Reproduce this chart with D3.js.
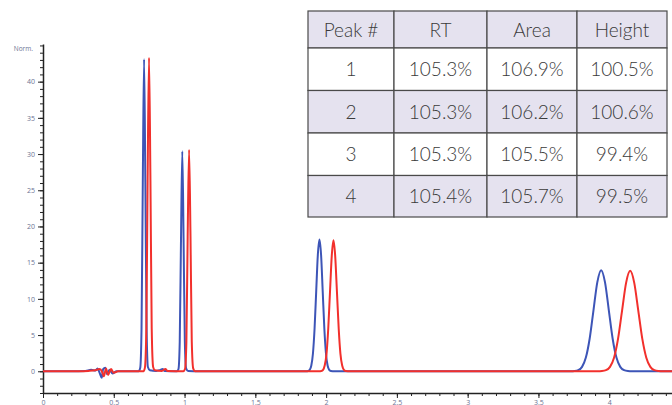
<!DOCTYPE html>
<html>
<head>
<meta charset="utf-8">
<script src="https://cdn.jsdelivr.net/npm/d3@7"></script>
<style>
  html, body { margin: 0; padding: 0; background: #fff; }
  svg { display: block; }
</style>
</head>
<body>
<div id="chart"></div>
<script>
// Chromatogram traces, [time (min), signal (Norm.)]
const blueTrace = [
  [0, 0], [0.2, 0], [0.3, 0.05], [0.34, 0.2], [0.37, 0.1], [0.385, 0.4], [0.4, -0.2],
  [0.415, -0.9], [0.425, 0.3], [0.44, 0.5], [0.452, -0.4], [0.47, 0.2], [0.49, -0.3],
  [0.52, 0], [0.6, 0], [0.675, 0],
  [0.687, 0.5], [0.696, 5.8], [0.705, 26.1], [0.714, 43.1], [0.723, 26.1], [0.732, 5.8],
  [0.741, 0.6], [0.755, 0.15], [0.8, 0.05], [0.83, 0.2], [0.845, 0.3], [0.86, 0.05],
  [0.945, 0], [0.957, 0.3], [0.966, 4.1], [0.975, 18.4], [0.984, 30.4], [0.993, 18.4],
  [1.002, 4.1], [1.011, 0.4], [1.025, 0.05], [1.1, 0], [1.5, 0], [1.86, 0],
  [1.8725, 0.04], [1.884, 0.2], [1.8955, 0.8], [1.907, 2.46], [1.9185, 5.91], [1.93, 11.04],
  [1.9415, 16.06], [1.953, 18.2], [1.9645, 16.06], [1.976, 11.04], [1.9875, 5.91],
  [1.999, 2.46], [2.0105, 0.8], [2.022, 0.2], [2.0335, 0.04], [2.06, 0], [3, 0], [3.73, 0],
  [3.754, 0.03], [3.781, 0.155], [3.808, 0.61], [3.835, 1.89], [3.862, 4.53], [3.889, 8.46],
  [3.916, 12.31], [3.943, 13.95], [3.97, 12.31], [3.997, 8.46], [4.024, 4.53], [4.051, 1.89],
  [4.078, 0.61], [4.105, 0.155], [4.132, 0.03], [4.16, 0], [4.5, 0]
];

const redTrace = [
  [0, 0], [0.25, 0], [0.32, 0.05], [0.37, 0.15], [0.4, 0.3], [0.418, -0.1], [0.43, -0.7],
  [0.445, 0.4], [0.46, -0.5], [0.48, 0.3], [0.5, -0.2], [0.53, 0], [0.6, 0], [0.71, 0],
  [0.72, 0.5], [0.73, 5.9], [0.739, 26.3], [0.749, 43.3], [0.759, 26.3], [0.768, 5.9],
  [0.778, 0.6], [0.79, 0.15], [0.84, 0.05], [0.865, 0.3], [0.88, 0.05], [0.99, 0],
  [1.003, 0.3], [1.013, 4.1], [1.022, 18.6], [1.032, 30.6], [1.042, 18.6], [1.051, 4.1],
  [1.061, 0.4], [1.075, 0], [1.5, 0], [1.95, 0],
  [1.966, 0.04], [1.9785, 0.2], [1.99, 0.79], [2.003, 2.45], [2.015, 5.88], [2.0275, 10.98],
  [2.04, 15.97], [2.052, 18.1], [2.064, 15.97], [2.0765, 10.98], [2.089, 5.88], [2.101, 2.45],
  [2.1135, 0.79], [2.1255, 0.2], [2.138, 0.04], [2.17, 0], [3, 0], [3.92, 0],
  [3.9485, 0.03], [3.977, 0.15], [4.0055, 0.61], [4.034, 1.88], [4.0625, 4.51], [4.091, 8.42],
  [4.1195, 12.25], [4.148, 13.88], [4.1765, 12.25], [4.205, 8.42], [4.2335, 4.51],
  [4.262, 1.88], [4.2905, 0.61], [4.319, 0.15], [4.3475, 0.03], [4.38, 0], [4.5, 0]
];

const xMajorTicks = [0, 0.5, 1, 1.5, 2, 2.5, 3, 3.5, 4, 4.5];
const yMajorTicks = [0, 5, 10, 15, 20, 25, 30, 35, 40];

const tableHeader = ["Peak #", "RT", "Area", "Height"];
const tableRows = [
  ["1", "105.3%", "106.9%", "100.5%"],
  ["2", "105.3%", "106.2%", "100.6%"],
  ["3", "105.3%", "105.5%", "99.4%"],
  ["4", "105.4%", "105.7%", "99.5%"]
];

const width = 672;
const height = 405;

const svg = d3.select("#chart")
  .append("svg")
  .attr("width", width)
  .attr("height", height);

// Scales
const x = d3.scaleLinear().domain([0, 4.5]).range([43, 680]);
const y = d3.scaleLinear().domain([-3, 45.2]).range([393, 44]);

const tickColor = "#6d7494";

// Minor ticks
svg.append("g")
  .attr("transform", "translate(0,393)")
  .call(d3.axisBottom(x).tickValues(d3.range(0, 45).map(d => d / 10)).tickSize(3).tickFormat(""))
  .call(g => g.select(".domain").remove())
  .selectAll("line").attr("stroke", "#222");

svg.append("g")
  .attr("transform", "translate(43,0)")
  .call(d3.axisLeft(y).tickValues(d3.range(-3, 46)).tickSize(3).tickFormat(""))
  .call(g => g.select(".domain").remove())
  .selectAll("line").attr("stroke", "#222");

// Major ticks + labels (the x labels sit at the bottom edge, cut off as in the source image)
const xAxis = svg.append("g")
  .attr("transform", "translate(0,393)")
  .call(d3.axisBottom(x).tickValues(xMajorTicks).tickSize(5).tickSizeOuter(0).tickPadding(2).tickFormat(d3.format("")));

const yAxis = svg.append("g")
  .attr("transform", "translate(43,0)")
  .call(d3.axisLeft(y).tickValues(yMajorTicks).tickSize(5).tickSizeOuter(0).tickPadding(3));

[xAxis, yAxis].forEach(g => {
  g.select(".domain").attr("stroke", "#222").attr("stroke-width", 1.5);
  g.selectAll("line").attr("stroke", "#222");
  g.selectAll("text")
    .attr("fill", tickColor)
    .style("font-family", "'Open Sans', sans-serif")
    .style("font-size", "7px");
});

svg.append("text")
  .attr("x", 33)
  .attr("y", 51)
  .attr("text-anchor", "end")
  .attr("fill", tickColor)
  .style("font-family", "'Open Sans', sans-serif")
  .style("font-size", "6.5px")
  .text("Norm.");

// Traces
const line = d3.line()
  .x(d => x(d[0]))
  .y(d => y(d[1]))
  .curve(d3.curveMonotoneX);

svg.append("path")
  .datum(blueTrace)
  .attr("fill", "none")
  .attr("stroke", "#3d55b7")
  .attr("stroke-width", 2)
  .attr("stroke-linejoin", "round")
  .attr("d", line);

svg.append("path")
  .datum(redTrace)
  .attr("fill", "none")
  .attr("stroke", "#f2302c")
  .attr("stroke-width", 2)
  .attr("stroke-linejoin", "round")
  .attr("d", line);

// Table
const colWidths = [86, 93, 90, 90];
const colX = [308];
colWidths.forEach((w, i) => colX.push(colX[i] + w));
const rowY = [11, 48, 90.5, 133, 175.5, 217];

const allRows = [tableHeader, ...tableRows];
const table = svg.append("g");

allRows.forEach((row, r) => {
  row.forEach((cell, c) => {
    table.append("rect")
      .attr("x", colX[c])
      .attr("y", rowY[r])
      .attr("width", colWidths[c])
      .attr("height", rowY[r + 1] - rowY[r])
      .attr("fill", r % 2 === 0 ? "#e5e2ef" : "#ffffff")
      .attr("stroke", "#4a4a4a")
      .attr("stroke-width", 1.2);

    table.append("text")
      .attr("x", colX[c] + colWidths[c] / 2)
      .attr("y", (rowY[r] + rowY[r + 1]) / 2 + 7)
      .attr("text-anchor", "middle")
      .attr("fill", "#3a3a3a")
      .style("font-family", "Lato, sans-serif")
      .style("font-weight", 300)
      .style("font-size", "19px")
      .text(cell);
  });
});
</script>
</body>
</html>
